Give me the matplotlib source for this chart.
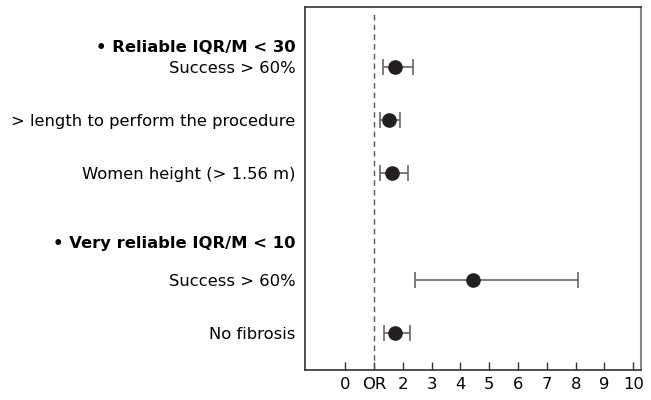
import matplotlib.pyplot as plt

# odds ratios with 95% CI
factors = ["Success > 60%", "> length to perform the procedure",
           "Women height (> 1.56 m)", "Success > 60%", "No fibrosis"]
odds = [1.73, 1.52, 1.62, 4.43, 1.73]
ci_low = [1.31, 1.20, 1.21, 2.42, 1.34]
ci_high = [2.35, 1.92, 2.17, 8.10, 2.27]
rows = [1, 2, 3, 5.03, 6.04]

groups = ["\u2022 Reliable IQR/M < 30", "\u2022 Very reliable IQR/M < 10"]
group_rows = [0.6, 4.31]

xticks = list(range(0, 11))
xticklabels = ["0", "OR", "2", "3", "4", "5", "6", "7", "8", "9", "10"]

plt.rcParams["font.family"] = "DejaVu Sans"
fs = 11.8

fig = plt.figure(figsize=(6.51, 4.0), dpi=100)
ax = fig.add_axes([305 / 651, 30 / 400, 336 / 651, 363 / 400])

err = [[o - l for o, l in zip(odds, ci_low)], [h - o for o, h in zip(odds, ci_high)]]
eb = ax.errorbar(odds, rows, xerr=err, fmt="o", color="#231f20", ecolor="#666666",
                 elinewidth=1.2, capsize=6, capthick=1.2, markersize=9.5, zorder=3)
for cap in eb[1]:
    cap.set_color("#333333")

ax.axvline(1, color="#555555", linestyle=(0, (4, 3)), linewidth=1, ymin=0, ymax=0.985)

ax.set_xlim(-1.39, 10.27)
ax.set_ylim(6.74, -0.14)

ax.set_xticks(xticks)
ax.set_xticklabels(xticklabels, fontsize=fs)
ax.tick_params(axis="x", direction="in", length=6, width=1, color="#333333", pad=5)

ax.set_yticks(group_rows + rows)
ax.set_yticklabels(groups + factors, fontsize=fs)
ax.tick_params(axis="y", length=0, pad=7)
for lbl in ax.get_yticklabels()[:len(groups)]:
    lbl.set_fontweight("bold")

for side in ["top", "bottom", "left"]:
    ax.spines[side].set_color("#333333")
    ax.spines[side].set_linewidth(1.2)
ax.spines["right"].set_color("#888888")
ax.spines["right"].set_linewidth(1.5)

fig.savefig("out.png", dpi=100)
